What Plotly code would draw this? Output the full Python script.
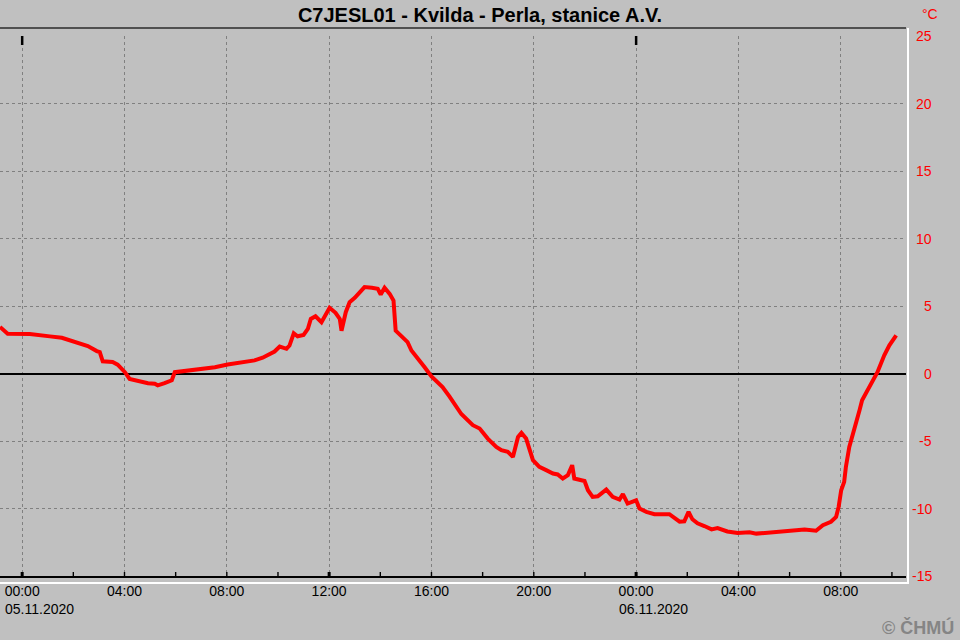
import plotly.graph_objects as go

# ---------------- data ----------------
times = [
    "2020-11-04 23:08", "2020-11-04 23:26",
    "2020-11-05 00:18", "2020-11-05 00:53", "2020-11-05 01:05", "2020-11-05 01:33",
    "2020-11-05 01:52", "2020-11-05 02:15", "2020-11-05 02:34", "2020-11-05 02:55",
    "2020-11-05 03:02", "2020-11-05 03:09", "2020-11-05 03:32", "2020-11-05 03:44",
    "2020-11-05 04:01", "2020-11-05 04:12", "2020-11-05 04:36", "2020-11-05 04:55",
    "2020-11-05 05:11", "2020-11-05 05:18", "2020-11-05 05:34", "2020-11-05 05:51",
    "2020-11-05 05:58", "2020-11-05 06:17", "2020-11-05 06:45", "2020-11-05 07:08",
    "2020-11-05 07:32", "2020-11-05 08:02", "2020-11-05 08:35", "2020-11-05 09:05",
    "2020-11-05 09:24", "2020-11-05 09:40", "2020-11-05 09:52", "2020-11-05 10:04",
    "2020-11-05 10:20", "2020-11-05 10:27", "2020-11-05 10:37", "2020-11-05 10:46",
    "2020-11-05 11:00", "2020-11-05 11:10", "2020-11-05 11:17", "2020-11-05 11:28",
    "2020-11-05 11:42", "2020-11-05 12:01", "2020-11-05 12:15", "2020-11-05 12:25",
    "2020-11-05 12:29", "2020-11-05 12:39", "2020-11-05 12:48", "2020-11-05 13:00",
    "2020-11-05 13:11", "2020-11-05 13:23", "2020-11-05 13:40", "2020-11-05 13:54",
    "2020-11-05 14:01", "2020-11-05 14:10", "2020-11-05 14:22", "2020-11-05 14:31",
    "2020-11-05 14:36", "2020-11-05 14:50", "2020-11-05 15:04", "2020-11-05 15:13",
    "2020-11-05 15:27", "2020-11-05 15:44", "2020-11-05 16:00", "2020-11-05 16:26",
    "2020-11-05 16:42", "2020-11-05 16:54", "2020-11-05 17:10", "2020-11-05 17:37",
    "2020-11-05 17:53", "2020-11-05 18:12", "2020-11-05 18:32", "2020-11-05 18:44",
    "2020-11-05 18:59", "2020-11-05 19:11", "2020-11-05 19:23", "2020-11-05 19:31",
    "2020-11-05 19:42", "2020-11-05 19:58", "2020-11-05 20:13", "2020-11-05 20:29",
    "2020-11-05 20:45", "2020-11-05 20:56", "2020-11-05 21:08", "2020-11-05 21:20",
    "2020-11-05 21:30", "2020-11-05 21:35", "2020-11-05 21:47", "2020-11-05 21:59",
    "2020-11-05 22:07", "2020-11-05 22:18", "2020-11-05 22:30", "2020-11-05 22:50",
    "2020-11-05 23:05", "2020-11-05 23:21", "2020-11-05 23:29", "2020-11-05 23:40",
    "2020-11-06 00:00", "2020-11-06 00:08", "2020-11-06 00:24", "2020-11-06 00:43",
    "2020-11-06 01:18", "2020-11-06 01:42", "2020-11-06 01:53", "2020-11-06 02:03",
    "2020-11-06 02:12", "2020-11-06 02:24", "2020-11-06 02:40", "2020-11-06 02:57",
    "2020-11-06 03:11", "2020-11-06 03:34", "2020-11-06 03:58", "2020-11-06 04:26",
    "2020-11-06 04:42", "2020-11-06 05:10", "2020-11-06 05:35", "2020-11-06 06:11",
    "2020-11-06 06:35", "2020-11-06 07:02", "2020-11-06 07:18", "2020-11-06 07:37",
    "2020-11-06 07:49", "2020-11-06 07:55", "2020-11-06 08:01", "2020-11-06 08:08",
    "2020-11-06 08:12", "2020-11-06 08:20", "2020-11-06 08:32", "2020-11-06 08:44",
    "2020-11-06 08:50", "2020-11-06 09:07", "2020-11-06 09:15", "2020-11-06 09:26",
    "2020-11-06 09:42", "2020-11-06 09:54", "2020-11-06 10:10",
]
temps = [
    3.45, 2.95,
    2.93, 2.85, 2.75, 2.65,
    2.45, 2.28, 2.03, 1.66,
    1.59, 0.90, 0.85, 0.66,
    0.10, -0.40, -0.60, -0.72,
    -0.76, -0.88, -0.72, -0.50,
    0.10, 0.17, 0.22, 0.35,
    0.46, 0.66, 0.85, 0.97,
    1.17, 1.46, 1.63, 2.00,
    1.83, 2.07, 2.98, 2.76,
    2.86, 3.30, 4.04, 4.24,
    3.80, 4.87, 4.50, 4.04,
    3.17, 4.54, 5.28, 5.60,
    6.00, 6.40, 6.35, 6.28,
    5.85, 6.35, 5.90, 5.40,
    3.17, 2.76, 2.32, 1.70,
    1.09, 0.46, -0.22, -1.00,
    -1.70, -2.30, -3.00, -3.83,
    -4.08, -4.82, -5.44, -5.68,
    -5.80, -6.18, -4.70, -4.40,
    -4.82, -6.42, -6.92, -7.16,
    -7.41, -7.48, -7.78, -7.53,
    -6.79, -7.78, -7.90, -7.96,
    -8.65, -9.14, -9.09, -8.60,
    -9.14, -9.34, -8.94, -9.63,
    -9.39, -10.00, -10.25, -10.42,
    -10.42, -10.98, -10.95, -10.25,
    -10.80, -11.10, -11.30, -11.55,
    -11.45, -11.70, -11.82, -11.76,
    -11.86, -11.77, -11.74, -11.62,
    -11.56, -11.65, -11.24, -10.98,
    -10.63, -9.88, -8.65, -8.03,
    -6.92, -5.44, -4.20, -2.72,
    -1.98, -1.00, -0.50, 0.10,
    1.35, 2.09, 2.83,
]

title_text = "C7JESL01 - Kvilda - Perla, stanice A.V."
unit_text = "°C"
copyright_text = "© ČHMÚ"

x_range = ["2020-11-04 23:08", "2020-11-06 10:33"]
y_range = [-15, 25]

tick_times = ["2020-11-05 00:00", "2020-11-05 04:00", "2020-11-05 08:00",
              "2020-11-05 12:00", "2020-11-05 16:00", "2020-11-05 20:00",
              "2020-11-06 00:00", "2020-11-06 04:00", "2020-11-06 08:00"]
tick_labels = ["00:00", "04:00", "08:00", "12:00", "16:00", "20:00",
               "00:00", "04:00", "08:00"]
date_ticks = ["2020-11-05 00:00", "2020-11-06 00:00"]
date_labels = ["05.11.2020", "06.11.2020"]

minor_ticks = ["2020-11-05 %02d:00" % h for h in range(0, 24, 2)] + \
              ["2020-11-06 %02d:00" % h for h in range(0, 12, 2)]
bold_ticks = ["2020-11-05 00:00", "2020-11-05 12:00", "2020-11-06 00:00"]

y_ticks = [-15, -10, -5, 0, 5, 10, 15, 20, 25]

# ---------------- geometry (pixels) ----------------
W, H = 960, 640
PL, PR, PT, PB = 0, 906, 36, 576     # plot area edges
pw, ph = PR - PL, PB - PT


def px(x):
    return (x - PL) / pw


def py(y):
    return (PB - y) / ph


BG = "#c0c0c0"
FONT = "Liberation Sans, Arial, sans-serif"

fig = go.Figure()
fig.add_trace(go.Scatter(
    x=times, y=temps, mode="lines",
    line=dict(color="#ff0000", width=4),
    hoverinfo="skip", showlegend=False,
))

shapes = []
# frame: dark top line, white right and bottom lines
shapes.append(dict(type="line", xref="paper", yref="paper",
                   x0=px(0), x1=px(906), y0=py(28), y1=py(28),
                   line=dict(color="#505050", width=2), layer="above"))
shapes.append(dict(type="line", xref="paper", yref="paper",
                   x0=px(908), x1=px(908), y0=py(28), y1=py(584),
                   line=dict(color="#ffffff", width=2), layer="above"))
shapes.append(dict(type="line", xref="paper", yref="paper",
                   x0=px(0), x1=px(909), y0=py(583), y1=py(583),
                   line=dict(color="#ffffff", width=2), layer="above"))
# ticks crossing the time axis
for t in minor_ticks:
    w = 3 if t in bold_ticks else 1.4
    shapes.append(dict(type="line", xref="x", yref="y", x0=t, x1=t,
                       ysizemode="pixel", yanchor=y_range[0], y0=-5, y1=4,
                       line=dict(color="#000000", width=w), layer="above"))
# day markers at the top
for t in date_ticks:
    shapes.append(dict(type="line", xref="x", yref="y", x0=t, x1=t,
                       ysizemode="pixel", yanchor=y_range[1], y0=-9, y1=0,
                       line=dict(color="#000000", width=2.5), layer="above"))

annotations = []
for v in y_ticks:
    annotations.append(dict(xref="paper", yref="y", x=px(934), y=v,
                            xanchor="right", yanchor="middle", showarrow=False,
                            text=str(v), font=dict(family=FONT, size=14, color="#ff0000")))
annotations.append(dict(xref="paper", yref="paper", x=px(930), y=py(14),
                        xanchor="center", yanchor="middle", showarrow=False,
                        text=unit_text, font=dict(family=FONT, size=14, color="#ff0000")))
for t, lab in zip(date_ticks, date_labels):
    annotations.append(dict(xref="x", yref="paper", x=t, y=py(609),
                            xanchor="left", yanchor="middle", xshift=-19, showarrow=False,
                            text=lab, font=dict(family=FONT, size=14, color="#000000")))
annotations.append(dict(xref="paper", yref="paper", x=px(956), y=py(627),
                        xanchor="right", yanchor="middle", showarrow=False,
                        text="<b>" + copyright_text + "</b>",
                        font=dict(family=FONT, size=18, color="#858585")))

fig.update_layout(
    width=W, height=H,
    margin=dict(l=PL, r=W - PR, t=PT, b=H - PB, pad=0, autoexpand=False),
    paper_bgcolor=BG, plot_bgcolor=BG,
    title=dict(text="<b>" + title_text + "</b>", x=0.5, xanchor="center",
               y=1 - 15 / H, yanchor="middle",
               font=dict(family=FONT, size=20, color="#000000")),
    xaxis=dict(
        type="date", range=x_range, tickmode="array",
        tickvals=tick_times, ticktext=tick_labels,
        ticks="", showline=True, linecolor="#000000", linewidth=2,
        showgrid=True, gridcolor="#808080", griddash="3px,3px", gridwidth=1,
        zeroline=False, tickfont=dict(family=FONT, size=14, color="#000000"),
        ticklabelstandoff=1, fixedrange=True, automargin=False,
    ),
    yaxis=dict(
        range=y_range, tickmode="array", tickvals=y_ticks,
        showticklabels=False, ticks="", showline=False,
        showgrid=True, gridcolor="#808080", griddash="3px,3px", gridwidth=1,
        zeroline=True, zerolinecolor="#000000", zerolinewidth=2,
        fixedrange=True, automargin=False,
    ),
    shapes=shapes, annotations=annotations,
)

fig.write_html("out.html", config={"displayModeBar": False},
               post_script="document.body.style.margin='0';document.body.style.padding='0';")
